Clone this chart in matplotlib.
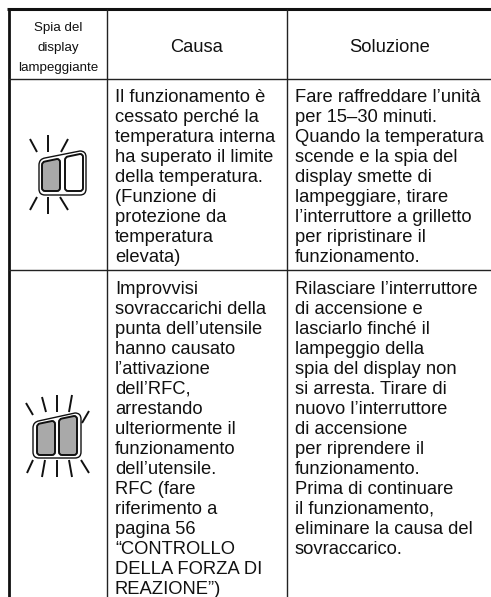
import matplotlib
matplotlib.use('Agg')
import matplotlib.pyplot as plt
from matplotlib.path import Path
from matplotlib.patches import PathPatch

plt.rcParams['font.family'] = ['Liberation Sans', 'DejaVu Sans']

W, H = 491, 597

header_first = ['Spia del', 'display', 'lampeggiante']
header_cols = ['Causa', 'Soluzione']

row1_causa = ['Il funzionamento è', 'cessato perché la', 'temperatura interna', 'ha superato il limite',
              'della temperatura.', '(Funzione di', 'protezione da', 'temperatura', 'elevata)']
row1_soluzione = ['Fare raffreddare l’unità', 'per 15–30 minuti.', 'Quando la temperatura', 'scende e la spia del',
                  'display smette di', 'lampeggiare, tirare', 'l’interruttore a grilletto', 'per ripristinare il',
                  'funzionamento.']
row2_causa = ['Improvvisi', 'sovraccarichi della', 'punta dell’utensile', 'hanno causato', 'l’attivazione',
              'dell’RFC,', 'arrestando', 'ulteriormente il', 'funzionamento', 'dell’utensile.', 'RFC (fare',
              'riferimento a', 'pagina 56', '“CONTROLLO', 'DELLA FORZA DI', 'REAZIONE”)']
row2_soluzione = ['Rilasciare l’interruttore', 'di accensione e', 'lasciarlo finché il', 'lampeggio della',
                  'spia del display non', 'si arresta. Tirare di', 'nuovo l’interruttore', 'di accensione',
                  'per riprendere il', 'funzionamento.', 'Prima di continuare', 'il funzionamento,',
                  'eliminare la causa del', 'sovraccarico.']

# icon rays, pixel coords of the page
icon1_rays = [(30, 139, 37, 152), (48, 135, 48, 152), (68, 139, 61, 152),
              (37, 197, 30, 210), (48, 197, 48, 214), (60, 197, 68, 210)]
icon2_rays = [(26, 403, 33, 415), (42, 397, 46, 412), (57, 395, 57, 412), (72, 395, 69, 412), (89, 411, 82, 423),
              (33, 460, 27, 473), (45, 460, 42, 477), (57, 460, 57, 477), (69, 460, 72, 477), (81, 460, 89, 473)]

fig = plt.figure(figsize=(W / 100, H / 100), dpi=100)
ax = fig.add_axes([0, 0, 1, 1])
ax.set_xlim(0, W)
ax.set_ylim(H, 0)
ax.axis('off')

# table lines
ax.plot([7.5, W], [9.3, 9.3], color='#111111', lw=2.2, solid_capstyle='butt')
ax.plot([8.8, 8.8], [8, H], color='#111111', lw=2.0, solid_capstyle='butt')
ax.plot([107, 107], [9, H], color='#222222', lw=1.0, solid_capstyle='butt')
ax.plot([287, 287], [9, H], color='#222222', lw=1.0, solid_capstyle='butt')
ax.plot([9, W], [79, 79], color='#222222', lw=1.0)
ax.plot([9, W], [270, 270], color='#222222', lw=1.0)

# header
for i, s in enumerate(header_first):
    ax.text(58, 28 + i * 20, s, fontsize=9.6, ha='center', va='center', color='#111111')
ax.text(197, 47, header_cols[0], fontsize=13.2, ha='center', va='center', color='#111111')
ax.text(390, 47, header_cols[1], fontsize=13.2, ha='center', va='center', color='#111111')


def column(x, y0, lines):
    for i, s in enumerate(lines):
        ax.text(x, y0 + i * 20, s, fontsize=13.2, ha='left', va='baseline', color='#111111')


column(115, 102, row1_causa)
column(295, 102, row1_soluzione)
column(115, 294, row2_causa)
column(295, 294, row2_soluzione)


def rounded(xl, xr, yt_l, yt_r, yb, r, **kw):
    verts = [(xl, yt_l + r), (xl, yt_l), (xl + r, yt_l - r * (yt_l - yt_r) / (xr - xl)),
             (xr - r, yt_r), (xr, yt_r), (xr, yt_r + r),
             (xr, yb - r), (xr, yb), (xr - r, yb),
             (xl + r, yb), (xl, yb), (xl, yb - r), (xl, yt_l + r)]
    codes = [Path.MOVETO, Path.CURVE3, Path.CURVE3, Path.LINETO, Path.CURVE3, Path.CURVE3,
             Path.LINETO, Path.CURVE3, Path.CURVE3, Path.LINETO, Path.CURVE3, Path.CURVE3, Path.CLOSEPOLY]
    ax.add_patch(PathPatch(Path(verts, codes), **kw))


def rays(segs):
    for x0, y0, x1, y1 in segs:
        ax.plot([x0, x1], [y0, y1], color='#111111', lw=1.4, solid_capstyle='butt')


# icon 1
rays(icon1_rays)
rounded(39, 86, 159, 151, 195, 6, fc='white', ec='#111111', lw=1.0)
rounded(42, 60, 162, 159, 191, 3, fc='#a9a9a9', ec='#111111', lw=1.4)
rounded(65, 83, 157, 154, 191, 3, fc='white', ec='#111111', lw=1.4)

# icon 2
rays(icon2_rays)
rounded(33, 81, 422, 413, 458, 6, fc='white', ec='#111111', lw=1.0)
rounded(37, 55, 424, 421, 455, 3, fc='#a9a9a9', ec='#111111', lw=1.4)
rounded(59, 77, 419, 416, 455, 3, fc='#a9a9a9', ec='#111111', lw=1.4)

fig.savefig('out.png', dpi=100)
